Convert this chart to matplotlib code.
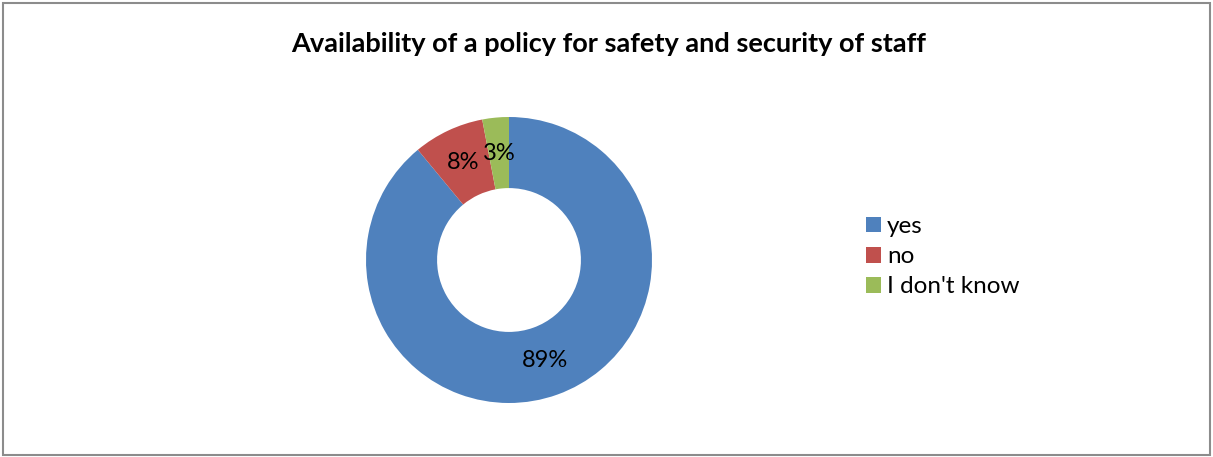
import matplotlib.pyplot as plt
from matplotlib.patches import Rectangle, Patch

labels = ["yes", "no", "I don't know"]
values = [89, 8, 3]
colors = ["#4F81BD", "#C0504D", "#9BBB59"]
title = "Availability of a policy for safety and security of staff"

plt.rcParams["font.family"] = ["Lato", "DejaVu Sans"]

W, H = 1213, 457
fig = plt.figure(figsize=(W / 100, H / 100), dpi=100)

# donut centred at (509, 260) px, outer radius 143 px
cx, cy, r = 509, 260, 143
ax = fig.add_axes([(cx - r) / W, (H - cy - r) / H, 2 * r / W, 2 * r / H])
wedges, texts, autotexts = ax.pie(
    values, colors=colors, startangle=90, counterclock=False,
    radius=1, wedgeprops=dict(width=0.497, linewidth=0),
    autopct="%1.0f%%", pctdistance=0.75, textprops=dict(fontsize=17, color="black"),
)
ax.set_xlim(-1, 1)
ax.set_ylim(-1, 1)
ax.set_aspect("equal")
ax.axis("off")

fig.text(609 / W, 1 - 44 / H, title, ha="center", va="center",
         fontsize=19.5, fontweight="bold")

handles = [Patch(facecolor=c, edgecolor="none") for c in colors]
fig.legend(handles, labels, loc="upper left", bbox_to_anchor=(866 / W, 1 - 216 / H),
           frameon=False, fontsize=17.5, handlelength=0.62, handleheight=0.62,
           handletextpad=0.25, labelspacing=0.38, borderpad=0, borderaxespad=0)

fig.patches.append(Rectangle((3 / W, 2 / H), (W - 6) / W, (H - 5) / H,
                             transform=fig.transFigure, fill=False,
                             edgecolor="#8c8c8c", linewidth=1.5))

fig.savefig("out.png", dpi=100, facecolor="white")
